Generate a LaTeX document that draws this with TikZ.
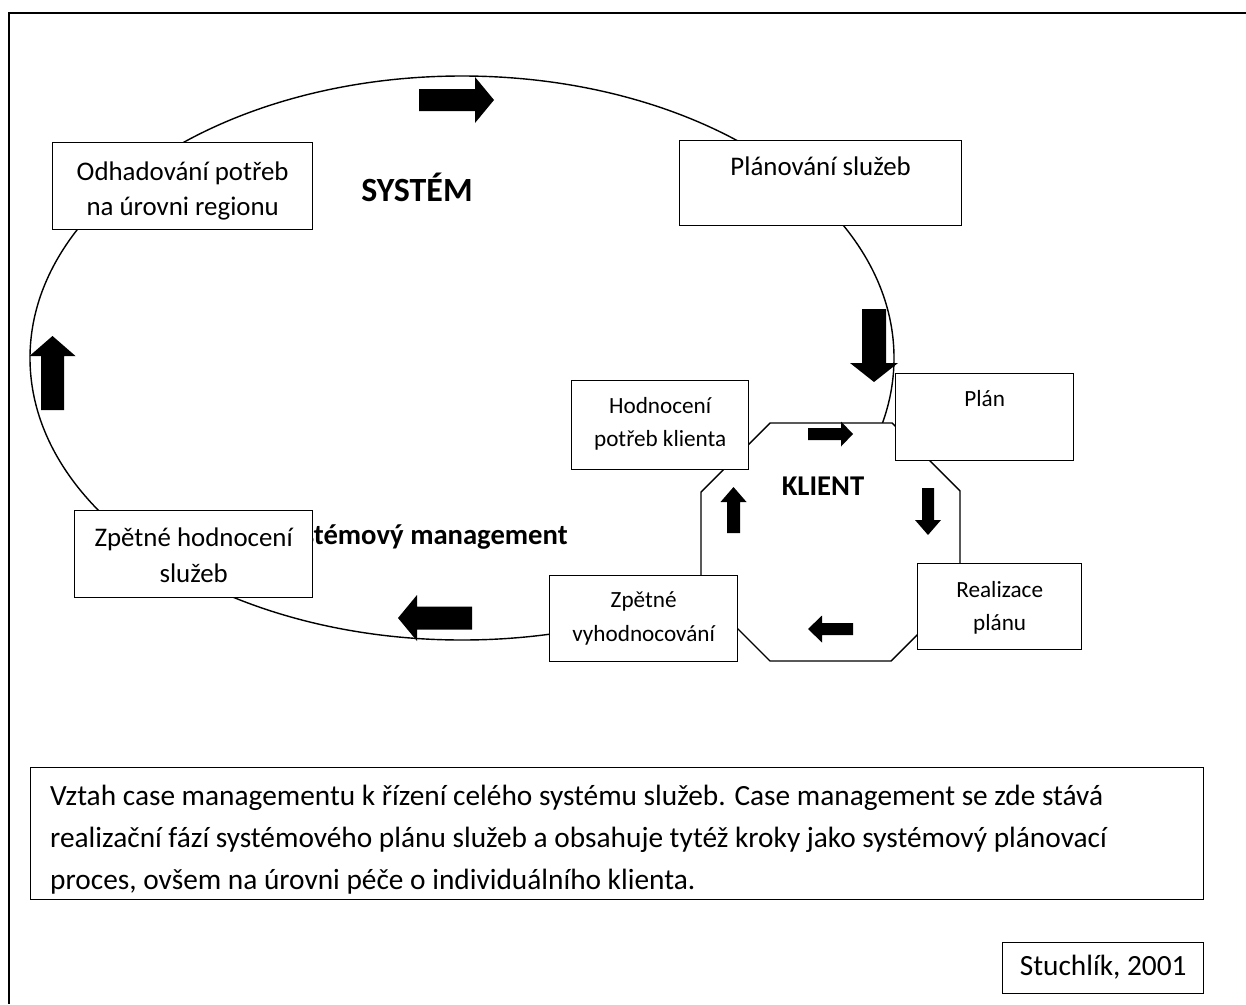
\documentclass[tikz,border=0pt]{standalone}
\usepackage{fontspec}
\setmainfont{Carlito}
\usetikzlibrary{positioning}

% plná bloková šipka: ocas, úhel, délka, půlka dříku, půlka hrotu, délka hrotu
\newcommand{\blokSipka}[6]{%
  \begin{scope}[shift={#1}, rotate=#2]
    \fill (0,-#4) -- ({#3-#6},-#4) -- ({#3-#6},-#5) -- (#3,0)
      -- ({#3-#6},#5) -- ({#3-#6},#4) -- (0,#4) -- cycle;
  \end{scope}}

\begin{document}
\begin{tikzpicture}[x=0.02cm, y=-0.02cm,
    krok/.style={draw, line width=0.8pt, fill=white, inner sep=0pt, anchor=north west},
    popis/.style={inner sep=0pt, align=center, anchor=north, font=\fontsize{15.3}{20.4}\selectfont},
    popisKlient/.style={popis, font=\fontsize{13.2}{18.8}\selectfont},
    nadpis/.style={inner sep=0pt, anchor=base, font=\fontsize{16.3}{20}\selectfont\bfseries}]
    \useasboundingbox (0,0) rectangle (1246,1004);

    % Rám
    \draw[line width=1.2pt] (1246,13) -- (9,13) -- (9,1004);

    % Systémový cyklus
    \draw[line width=0.8pt] (462,358) ellipse [x radius=432, y radius=282];
    \node[nadpis, font=\fontsize{19.3}{22}\selectfont\bfseries] (system) at (417,201) {SYSTÉM};
    \node[nadpis, anchor=base east] (sysman) at (568,544) {Systémový management};

    % Klient
    \draw[line width=0.8pt, fill=white] (770,423) -- (892,423) -- (960,491) -- (960,592)
        -- (891,661) -- (770,661) -- (701,592) -- (701,492) -- cycle;
    \node[nadpis] (klient) at (823,495) {KLIENT};

    % Kroky systému
    \node[krok, minimum width=5.20cm, minimum height=1.74cm] (odhad) at (52,142) {};
    \node[popis, below=7.2pt of odhad.north] (odhadT) {\strut Odhadování potřeb\\na úrovni regionu};

    \node[krok, minimum width=5.64cm, minimum height=1.70cm] (planovani) at (679,140) {};
    \node[popis, below=5.6pt of planovani.north] (planovaniT) {\strut Plánování služeb};

    \node[krok, minimum width=4.76cm, minimum height=1.74cm] (sluzby) at (74,510) {};
    \node[popis, below=6.2pt of sluzby.north] (sluzbyT) {\strut Zpětné hodnocení\\služeb};

    % Kroky klienta
    \node[krok, minimum width=3.54cm, minimum height=1.78cm] (hodnoceni) at (571,380) {};
    \node[popisKlient, below=5.8pt of hodnoceni.north] (hodnoceniT) {\strut Hodnocení\\potřeb klienta};

    \node[krok, minimum width=3.56cm, minimum height=1.74cm] (plan) at (895,373) {};
    \node[popisKlient, below=5.7pt of plan.north] (planT) {\strut Plán};

    \node[krok, minimum width=3.28cm, minimum height=1.72cm] (realizace) at (917,563) {};
    \node[popisKlient, below=6pt of realizace.north] (realizaceT) {\strut Realizace\\plánu};

    \node[krok, minimum width=3.76cm, minimum height=1.72cm] (vyhodnoc) at (549,575) {};
    \node[popisKlient, below=5.4pt of vyhodnoc.north] (vyhodnocT) {\strut Zpětné\\vyhodnocování};

    % Šipky
    \blokSipka{(419,100)}{0}{75}{11}{23}{19}
    \blokSipka{(874,309)}{-90}{73}{12}{24}{19}
    \blokSipka{(472,618)}{180}{74}{11.5}{23}{19}
    \blokSipka{(52.5,410)}{90}{74}{11.5}{23}{20}
    \blokSipka{(808,434)}{0}{45}{6}{12.5}{12}
    \blokSipka{(928,488)}{-90}{47}{6}{13}{15}
    \blokSipka{(853,629)}{180}{45}{6}{13.5}{14}
    \blokSipka{(733.5,533)}{90}{46}{6.5}{13}{15}

    % Popisek
    \node[krok, minimum width=23.46cm, minimum height=2.64cm] (popisek) at (30,767) {};
    \begin{scope}
        \clip (popisek.north west) rectangle (popisek.south east);
        \node[inner sep=0pt, anchor=north west, align=left, font=\fontsize{16.7}{23.9}\selectfont]
            (popisekT) at ([xshift=11.3pt, yshift=-4.9pt]popisek.north west)
            {\strut Vztah case managementu k řízení celého systému služeb. Case management se zde stává\\
             realizační fází systémového plánu služeb a obsahuje tytéž kroky jako systémový plánovací\\
             proces, ovšem na úrovni péče o individuálního klienta.};
    \end{scope}

    % Zdroj
    \node[krok, minimum width=4.02cm, minimum height=1.02cm] (zdroj) at (1002,942) {};
    \node[popis, font=\fontsize{16.7}{23.2}\selectfont, below=2.4pt of zdroj.north] (zdrojT) {\strut Stuchlík, 2001};
\end{tikzpicture}
\end{document}
